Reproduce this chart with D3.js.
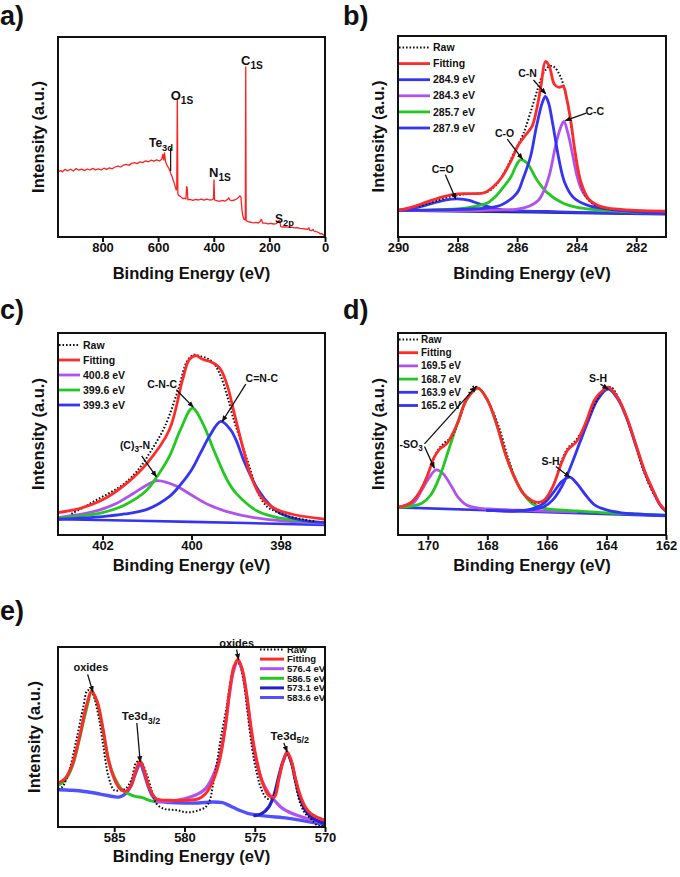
<!DOCTYPE html>
<html>
<head>
<meta charset="utf-8">
<script src="https://cdn.jsdelivr.net/npm/d3@7"></script>
<style>
  body { margin: 0; background: #fff; }
  svg { display: block; font-family: "Liberation Sans", Arial, sans-serif; font-weight: bold; }
</style>
</head>
<body>
<div id="chart"></div>
<script>
// ---- a) survey spectrum (binding energy eV, intensity % of frame) ----
const surveyData = [[960,32.5],[950,33.2],[945,32.6],[935,33.8],[925,33.1],[915,33.9],[905,33.0],[895,34.2],[885,33.4],[875,33.9],[865,33.2],[855,34.0],[845,33.5],[835,34.3],[825,33.6],[815,34.1],[805,33.5],[795,34.4],[785,33.8],[775,34.6],[765,34.1],[755,35.0],[745,35.4],[735,35.0],[725,35.9],[715,36.3],[705,35.8],[695,36.8],[685,37.2],[675,36.7],[665,37.6],[655,37.2],[645,38.1],[635,37.6],[625,38.4],[615,37.9],[605,38.6],[595,38.0],[587,38.9],[583,41.3],[580,38.6],[577,42.0],[574,38.2],[570,36.5],[566,35.3],[562,34.5],[558,33.2],[554,31.5],[550,30.3],[546,28.5],[542,26.8],[538,25.0],[535,23.5],[533,24.5],[531,68.6],[529,21.5],[526,20.8],[520,20.3],[515,19.6],[510,19.2],[505,19.4],[500,19.0],[497.5,25.2],[495.5,24.5],[493,18.6],[485,18.8],[475,18.3],[465,18.8],[455,18.5],[445,18.9],[435,18.4],[425,18.9],[415,18.5],[405,18.7],[401,19.0],[399,28.6],[397,18.5],[390,18.2],[380,17.8],[370,18.3],[360,17.9],[350,18.8],[346,19.6],[342,18.5],[335,18.2],[325,18.5],[318,19.0],[312,19.6],[306,20.6],[302,19.8],[299,14.0],[296,11.0],[292,9.0],[288,8.6],[286.5,9.5],[285,85],[283.5,8.2],[280,7.9],[275,7.6],[270,7.5],[262,7.2],[255,7.1],[248,7.3],[240,7.0],[234,7.6],[230,8.8],[227,8.3],[224,7.0],[215,6.9],[205,6.6],[195,6.8],[185,6.5],[175,6.7],[168,7.5],[165,8.4],[162,7.6],[159,5.2],[150,5.0],[140,5.1],[130,4.8],[120,4.9],[110,4.6],[100,4.7],[90,4.3],[80,4.2],[70,4.0],[62,3.8],[58,4.6],[55,3.4],[48,3.2],[43,3.8],[40,3.0],[35,2.8],[28,2.5],[22,2.2],[18,1.6],[12,1.7],[8,1.3],[4,0.9],[0,1.1]];

// ---- b) C 1s ----
const bRaw = [[289.3,15.2],[289,16.5],[288.6,18.5],[288.2,20.3],[287.8,21.2],[287.4,21.6],[287,22.5],[286.7,26],[286.4,33],[286.1,42],[285.8,51],[285.55,62],[285.3,74],[285.1,82],[284.9,85],[284.75,84.5],[284.55,80],[284.35,70],[284.15,52],[283.95,33],[283.75,22],[283.5,17],[283.1,14.5],[282.7,13.6]];
const bFit = [[290,13.2],[289.5,15],[289,17.6],[288.5,20],[288,21.5],[287.5,21.6],[287.1,22],[286.8,25],[286.5,30],[286.2,38],[285.95,46],[285.7,51],[285.5,55],[285.35,63],[285.2,75],[285.05,87.3],[284.92,85],[284.75,76],[284.6,74.5],[284.45,75],[284.35,70],[284.2,58],[284.05,42],[283.85,27],[283.6,19],[283.3,15.8],[283,14.5],[282,13.2],[281,12.9]];
const b2849 = [[290,13.2],[288,13.7],[287,14.5],[286.5,16.2],[286,22],[285.8,29],[285.55,40],[285.35,55],[285.15,67],[285.05,69.9],[284.95,67],[284.8,56],[284.6,39],[284.4,27],[284.1,19.5],[283.6,15.6],[283,14],[282,12.5],[281,11.6]];
const b2843 = [[290,13.2],[287,13.3],[286,13.9],[285.6,15.3],[285.3,18],[285.1,23],[284.9,31.8],[284.7,46],[284.55,54],[284.43,57.5],[284.3,52],[284.15,42],[284.0,31],[283.85,24],[283.7,20.2],[283.4,16.2],[283,14],[282,12.7],[281,11.8]];
const b2857 = [[290,13.2],[289,13.4],[288,14.0],[287.5,15.0],[287,16.9],[286.7,20.5],[286.44,25.2],[286.2,30.1],[286.05,35],[285.89,38.4],[285.67,36.8],[285.34,28.5],[285.0,22.2],[284.47,16.9],[284.03,14.9],[283.37,13.6],[282,12.3],[281,11.8]];
const b2879 = [[290,13.4],[289.6,14.0],[289.3,14.9],[288.6,17.7],[288.2,18.8],[288.0,19.0],[287.6,18.2],[287.3,16.6],[286.8,14.4],[286.3,13.2],[285,12.7],[284,12.3],[282,11.8],[281,11.6]];
const bBase = [[290,13.2],[287,12.6],[284,12.0],[281,11.4]];

// ---- c) N 1s ----
const cRaw = [[402.7,10.5],[402.4,14],[402.1,17.8],[401.8,21.3],[401.5,25.6],[401.2,32.2],[400.9,42],[400.6,53.7],[400.3,71.9],[400.1,86],[399.95,89.2],[399.8,88.5],[399.65,87.5],[399.5,85],[399.35,79],[399.2,69],[399.05,57],[398.9,47.1],[398.7,33.9],[398.5,20.7],[398.3,14],[398.1,11.6],[397.8,9.1],[397.5,7.8],[397.2,6.6]];
const cFit = [[403,11.1],[402.5,13.2],[402,17.4],[401.5,24.8],[401,35.5],[400.5,52],[400.2,76.9],[400.05,86.8],[399.9,88.8],[399.75,87],[399.6,86],[399.45,84.3],[399.34,81.8],[399.19,73.6],[399.04,60.3],[398.89,47.1],[398.66,28.9],[398.44,19],[398.14,13.2],[397.76,10.4],[397,7.8]];
const c4008 = [[403,8.6],[402.44,10.4],[402.06,12.4],[401.68,15.7],[401.3,20.7],[401.0,24.8],[400.78,26.9],[400.55,26],[400.32,24],[400,19.8],[399.64,15.2],[399.2,11.6],[398.6,8.6],[397.9,6.9],[397,5.8]];
const c3996 = [[403,8.3],[402,11.1],[401.5,14.9],[401,22.3],[400.8,28.1],[400.5,38.8],[400.25,52],[399.98,62.8],[399.75,55.4],[399.5,42.1],[399.2,27.3],[399,20.7],[398.5,11.6],[398,8.3],[397,6.1]];
const c3993 = [[403,7.8],[402,9.1],[401.5,10.4],[401,12.7],[400.5,19],[400.25,24.8],[400,32.2],[399.8,40.5],[399.6,48.8],[399.34,56.2],[399.12,52],[399,47.1],[398.8,35.5],[398.5,22.3],[398.2,14],[398,10.7],[397.53,7.4],[397,6.1]];
const cBase = [[403,7.8],[400,6.5],[397,5.0]];

// ---- d) S 2p ----
const dRaw = [[170.8,14.5],[170.5,17],[170.2,23.5],[169.95,32],[169.7,41],[169.45,45.5],[169.2,48.5],[168.95,57],[168.7,67],[168.45,73.5],[168.2,71.5],[167.9,64],[167.6,53],[167.3,38],[167,26],[166.7,19],[166.4,16],[166.1,16.8],[165.8,24],[165.55,35],[165.3,43],[165.05,46.5],[164.8,52],[164.55,60],[164.3,67.5],[164.05,72.5],[163.85,73.2],[163.6,68],[163.35,59],[163.1,48],[162.85,36],[162.6,26],[162.35,18.5],[162.1,13]];
const dFit = [[171,13.7],[170.6,15.7],[170.3,20.7],[170,29.8],[169.8,38],[169.6,42.5],[169.35,45.5],[169,55.4],[168.7,66.9],[168.32,72.7],[168,66.9],[167.7,55.4],[167.4,40.5],[167.1,28.9],[166.8,20.7],[166.5,17],[166.3,16.2],[166.1,17.2],[165.8,24],[165.5,36],[165.3,42.1],[165,46.3],[164.7,55.4],[164.4,66.9],[164.1,71.9],[163.94,73.2],[163.6,67.5],[163.3,57.5],[163,44.2],[162.7,31],[162.4,21],[162.2,15.2],[162,11.8]];
const d1695 = [[171,13.8],[170.5,15.7],[170.2,22.3],[170,27.3],[169.72,32.2],[169.5,30.6],[169.2,24],[169,19],[168.7,14.9],[168.3,13.3],[167.8,12.8],[167,12.3],[165,11.4]];
const d1687 = [[171,13.7],[170.5,14.4],[170.2,15.7],[169.9,19.8],[169.6,28.9],[169.3,42.1],[169,55.4],[168.7,66.9],[168.32,72.7],[168,66.9],[167.7,55.4],[167.4,40.5],[167.1,28.9],[166.8,20.7],[166.5,15.7],[166.2,13.7],[166,12.9],[165,11.9],[164,11],[162,9.9]];
const d1639 = [[168,12.2],[167,11.9],[166.5,12.6],[166.1,14],[165.8,17.4],[165.5,24],[165.2,33.9],[164.9,45.5],[164.6,57],[164.3,66.9],[163.94,72.2],[163.6,66.9],[163.3,57],[163,43.8],[162.7,30.6],[162.4,20.7],[162.2,14.9],[162,11.6]];
const d1652 = [[168,12.2],[167,11.9],[166.5,13],[166.1,15.7],[165.8,20.7],[165.5,26.4],[165.23,28.6],[165,25.6],[164.7,19.8],[164.4,14.9],[164,12.4],[163.5,11],[163,10.4],[162,9.6]];
const dBase = [[171,13.7],[162,9.4]];

// ---- e) Te 3d ----
const eRaw = [[589,21.3],[588.7,22.2],[588.2,31.5],[587.7,48.1],[587.2,66.7],[586.9,75.9],[586.6,75],[586.2,64.8],[585.8,46.3],[585.4,27.8],[585,20.4],[584.6,20.4],[584.2,21.3],[583.8,25.9],[583.4,36.1],[583.1,36.1],[582.7,29.6],[582.3,19.4],[582,13],[581.5,10.2],[581,9.6],[580.5,9.3],[580,8.3],[579.5,8.3],[579,9.3],[578.5,11.1],[578.2,14.8],[578,22.2],[577.7,35.2],[577.4,50],[577,66.7],[576.7,81.5],[576.4,90.7],[576.1,90.7],[575.8,81.5],[575.5,63],[575.2,44.4],[574.9,31.5],[574.5,20.4],[574.1,15.7],[573.7,16.7],[573.3,25.9],[573,36.1],[572.7,41.7],[572.4,35.2],[572.1,24.1],[571.8,13.9],[571.4,7.4],[571,4.6],[570.6,1.2],[570.3,0.5],[570,1.2]];
const eFit = [[589,24.4],[588.5,26.9],[588,34.3],[587.5,49],[587,66.7],[586.6,75.6],[586.2,69.4],[585.8,54.6],[585.4,37],[585,26.9],[584.6,21.3],[584.2,19.8],[583.8,23.1],[583.5,30.6],[583.15,36.5],[582.9,32.4],[582.6,24.1],[582.3,18.5],[582,15.7],[581,14.8],[580,14.8],[579,15.7],[578.5,18.5],[578,25],[577.5,37],[577.1,55.6],[576.8,75],[576.5,88.5],[576.2,93.1],[575.9,88],[575.6,75],[575.3,57.4],[575,42.6],[574.5,25.9],[574,17.6],[573.6,16.7],[573.3,25.9],[573,36.1],[572.7,41.7],[572.4,37],[572.1,26.9],[571.8,18.5],[571.4,11.1],[571,7.4],[570.5,5.2],[570,3.7]];
const e5764 = [[582,13.9],[581,14.4],[580,15.7],[579,18.5],[578.5,21.3],[578,27.8],[577.5,38.9],[577.1,55.6],[576.8,74],[576.5,87],[576.2,92.6],[575.9,87],[575.6,74],[575.3,55.6],[575,40.7],[574.5,25.9],[574,18.5],[573.5,13.9],[573,10.2],[572,6.5],[571,4.1],[570,2.2]];
const e5865 = [[589,23.1],[588.5,25.9],[588,33.3],[587.5,48.1],[587,64.8],[586.6,75],[586.2,68.5],[585.8,53.7],[585.4,37],[585,27.8],[584.5,21.3],[584,18.5],[583.5,17],[583,16.3],[582.5,14.8],[582,13.9]];
const e5731 = [[575,6.3],[574.5,7.4],[574,11.1],[573.6,18.5],[573.3,27.8],[573,36.1],[572.7,40.7],[572.4,36.1],[572.1,25.9],[571.8,16.7],[571.4,9.3],[571,5.6],[570.5,3.3],[570,1.9]];
const e5836 = [[589,20.7],[588,20.4],[587,19.6],[586,18.3],[585,16.8],[584.6,16.7],[584.2,18.5],[583.8,23.1],[583.5,29.6],[583.15,35.2],[582.9,30.6],[582.6,23.1],[582.3,17.6],[582,14.8],[581.5,14],[581,13.6],[580,13.3],[579,13.3],[578,13.9],[577.3,13.5],[577,12.6],[576.5,10.8],[576,9],[575.5,7.6],[575,6.9],[574,5.9],[573,5.2],[572,4.1],[571,2.8],[570,1.3]];

// tick values
const aTicks = [800, 600, 400, 200, 0];
const bTicks = [290, 288, 286, 284, 282];
const cTicks = [402, 400, 398];
const dTicks = [170, 168, 166, 164, 162];
const eTicks = [585, 580, 575, 570];

const RED = "#ff2b2b", BLUE = "#3434f2", PURPLE = "#b052ee", GREEN = "#22c922", NAVY = "#1d2a8c";
const DARKBLUE = "#2222c8", LIGHTBLUE = "#5050ff";

const svg = d3.select("#chart").append("svg").attr("width", 680).attr("height", 877);

svg.append("defs").append("marker")
  .attr("id", "arr").attr("viewBox", "0 0 10 10").attr("refX", 9).attr("refY", 5)
  .attr("markerWidth", 5).attr("markerHeight", 5).attr("orient", "auto")
  .append("path").attr("d", "M0,1L10,5L0,9z").attr("fill", "#111");

function drawPanel(p) {
  const x = d3.scaleLinear().domain(p.domain).range([p.left, p.right]);
  const y = d3.scaleLinear().domain([0, 100]).range([p.bottom, p.top]);
  const g = svg.append("g");

  g.append("clipPath").attr("id", "clip-" + p.id)
    .append("rect").attr("x", p.left).attr("y", p.top)
    .attr("width", p.right - p.left).attr("height", p.bottom - p.top);

  const line = d3.line().x(d => x(d[0])).y(d => y(d[1]))
    .curve(p.smooth ? d3.curveCatmullRom.alpha(0.5) : d3.curveLinear);

  const plot = g.append("g").attr("clip-path", "url(#clip-" + p.id + ")");
  p.series.forEach(s => {
    plot.append("path").datum(s.data)
      .attr("d", line)
      .attr("fill", "none")
      .attr("stroke", s.color)
      .attr("stroke-width", s.width)
      .attr("stroke-linejoin", "round")
      .attr("stroke-linecap", s.dash ? "butt" : "round")
      .attr("stroke-dasharray", s.dash || null);
  });

  // frame
  g.append("rect").attr("x", p.left).attr("y", p.top)
    .attr("width", p.right - p.left).attr("height", p.bottom - p.top)
    .attr("fill", "none").attr("stroke", "#111").attr("stroke-width", 2);

  // x axis
  const ax = g.append("g")
    .attr("transform", "translate(0," + p.bottom + ")")
    .call(d3.axisBottom(x).tickValues(p.ticks).tickFormat(d3.format("d")).tickSize(5).tickSizeOuter(0).tickPadding(1));
  ax.select(".domain").remove();
  ax.selectAll(".tick line").attr("stroke", "#111").attr("stroke-width", 2);
  ax.selectAll(".tick text").attr("font-size", 13).attr("font-weight", "bold")
    .attr("font-family", '"Liberation Sans", Arial, sans-serif').attr("fill", "#111");

  // axis titles
  g.append("text")
    .attr("x", (p.left + p.right) / 2).attr("y", p.bottom + p.xlabOff)
    .attr("text-anchor", "middle").attr("font-size", 16.5).attr("fill", "#111")
    .text("Binding Energy (eV)");
  g.append("text")
    .attr("transform", "translate(" + (p.left - p.ylabOff) + "," + (p.top + p.bottom) / 2 + ") rotate(-90)")
    .attr("dy", "0.35em").attr("text-anchor", "middle").attr("font-size", 16.5).attr("fill", "#111")
    .text("Intensity (a.u.)");

  // panel letter
  svg.append("text").attr("x", p.letterX).attr("y", p.letterY)
    .attr("font-size", 27).attr("fill", "#111").text(p.id + ")");

  // legend
  if (p.legend) {
    const L = p.legend;
    L.items.forEach((it, i) => {
      const yy = L.y + i * L.dy;
      g.append("line").attr("x1", L.x).attr("x2", L.x + L.len).attr("y1", yy).attr("y2", yy)
        .attr("stroke", it.color).attr("stroke-width", it.dash ? 2 : L.lw)
        .attr("stroke-dasharray", it.dash || null);
      g.append("text").attr("x", L.x + L.len + L.gap).attr("y", yy).attr("dy", "0.35em")
        .attr("font-size", L.fs).attr("fill", "#111").text(it.label);
    });
  }

  // annotations
  (p.notes || []).forEach(n => {
    const t = g.append("text").attr("x", x(n.at[0])).attr("y", y(n.at[1]))
      .attr("text-anchor", n.anchor || "middle").attr("font-size", n.fs).attr("fill", "#111");
    let shifted = false;
    n.parts.forEach(pt => {
      const sub = pt[1];
      const ts = t.append("tspan").text(pt[0]);
      if (sub && !shifted) { ts.attr("dy", n.fs * 0.3).attr("font-size", n.fs * 0.78); shifted = true; }
      else if (sub) { ts.attr("font-size", n.fs * 0.78); }
      else if (!sub && shifted) { ts.attr("dy", -n.fs * 0.3); shifted = false; }
    });
  });
  (p.arrows || []).forEach(a => {
    g.append("line")
      .attr("x1", x(a[0][0])).attr("y1", y(a[0][1]))
      .attr("x2", x(a[1][0])).attr("y2", y(a[1][1]))
      .attr("stroke", "#111").attr("stroke-width", a[2] === "plain" ? 1.2 : 1.3)
      .attr("marker-end", a[2] === "plain" ? null : "url(#arr)");
  });
}

const rawDash = "1.6,1.9";

drawPanel({
  id: "a", left: 58, right: 325, top: 37, bottom: 237, domain: [960, 0], ticks: aTicks,
  smooth: false, xlabOff: 42, ylabOff: 20, letterX: 0, letterY: 25,
  series: [{ data: surveyData, color: "#ff2020", width: 1.3 }],
  notes: [
    { at: [302, 86], anchor: "start", fs: 13, parts: [["C", 0], ["1S", 1]] },
    { at: [555, 68.5], anchor: "start", fs: 13, parts: [["O", 0], ["1S", 1]] },
    { at: [633, 45], anchor: "start", fs: 12, parts: [["Te", 0], ["3d", 1]] },
    { at: [417, 30], anchor: "start", fs: 13, parts: [["N", 0], ["1S", 1]] },
    { at: [180, 7.2], anchor: "start", fs: 12, parts: [["S", 0], ["2p", 1]] }
  ],
  arrows: [[[555, 44.5], [555, 33], "plain"]]
});

drawPanel({
  id: "b", left: 398, right: 666, top: 36, bottom: 237, domain: [290, 281], ticks: bTicks,
  smooth: true, xlabOff: 42, ylabOff: 20, letterX: 343, letterY: 25,
  series: [
    { data: bBase, color: NAVY, width: 2.6 },
    { data: b2879, color: BLUE, width: 2.8 },
    { data: b2857, color: GREEN, width: 2.8 },
    { data: b2843, color: PURPLE, width: 2.8 },
    { data: b2849, color: BLUE, width: 2.8 },
    { data: bRaw, color: "#111", width: 2, dash: rawDash },
    { data: bFit, color: RED, width: 2.8 }
  ],
  legend: { x: 399, y: 47.5, dy: 16.1, len: 31, gap: 3, fs: 10.5, lw: 2.8, items: [
    { label: "Raw", color: "#111", dash: rawDash },
    { label: "Fitting", color: RED },
    { label: "284.9 eV", color: BLUE },
    { label: "284.3 eV", color: PURPLE },
    { label: "285.7 eV", color: GREEN },
    { label: "287.9 eV", color: BLUE }
  ] },
  notes: [
    { at: [285.65, 79.5], fs: 10.5, parts: [["C-N", 0]] },
    { at: [283.39, 60.8], fs: 10.5, parts: [["C-C", 0]] },
    { at: [286.42, 50], fs: 10.5, parts: [["C-O", 0]] },
    { at: [288.5, 31.8], fs: 10.5, parts: [["C=O", 0]] }
  ],
  arrows: [
    [[285.45, 78.1], [285.04, 71.2]],
    [[283.68, 61.6], [284.38, 57.9]],
    [[286.33, 48.7], [285.82, 38.7]],
    [[288.41, 31], [288.06, 18.9]]
  ]
});

drawPanel({
  id: "c", left: 58, right: 325, top: 333, bottom: 535, domain: [403, 397], ticks: cTicks,
  smooth: true, xlabOff: 36, ylabOff: 20, letterX: 0, letterY: 319,
  series: [
    { data: cBase, color: BLUE, width: 2.6 },
    { data: c4008, color: PURPLE, width: 2.8 },
    { data: c3996, color: GREEN, width: 2.8 },
    { data: c3993, color: BLUE, width: 2.8 },
    { data: cRaw, color: "#111", width: 2, dash: rawDash },
    { data: cFit, color: RED, width: 2.8 }
  ],
  legend: { x: 59, y: 345, dy: 15, len: 21, gap: 3, fs: 10.5, lw: 2.8, items: [
    { label: "Raw", color: "#111", dash: rawDash },
    { label: "Fitting", color: RED },
    { label: "400.8 eV", color: PURPLE },
    { label: "399.6 eV", color: GREEN },
    { label: "399.3 eV", color: BLUE }
  ] },
  notes: [
    { at: [400.66, 72.7], fs: 10.5, parts: [["C-N-C", 0]] },
    { at: [398.42, 75.5], fs: 10.5, parts: [["C=N-C", 0]] },
    { at: [401.27, 42.5], fs: 10.5, parts: [["(C)", 0], ["3", 1], ["-N", 0]] }
  ],
  arrows: [
    [[400.34, 71.9], [399.96, 63.3]],
    [[398.78, 74.7], [399.31, 56.2]],
    [[401.12, 39.2], [400.79, 28.9]]
  ]
});

drawPanel({
  id: "d", left: 398, right: 666, top: 333, bottom: 535, domain: [171, 162], ticks: dTicks,
  smooth: true, xlabOff: 36, ylabOff: 20, letterX: 343, letterY: 319,
  series: [
    { data: dBase, color: BLUE, width: 2.6 },
    { data: d1695, color: PURPLE, width: 2.8 },
    { data: d1687, color: GREEN, width: 2.8 },
    { data: d1652, color: BLUE, width: 2.8 },
    { data: d1639, color: BLUE, width: 2.8 },
    { data: dRaw, color: "#111", width: 2, dash: rawDash },
    { data: dFit, color: RED, width: 2.8 }
  ],
  legend: { x: 399, y: 339.5, dy: 13.2, len: 19, gap: 3, fs: 10, lw: 2.8, items: [
    { label: "Raw", color: "#111", dash: rawDash },
    { label: "Fitting", color: RED },
    { label: "169.5 eV", color: PURPLE },
    { label: "168.7 eV", color: GREEN },
    { label: "163.9 eV", color: BLUE },
    { label: "165.2 eV", color: BLUE }
  ] },
  notes: [
    { at: [170.95, 43], anchor: "start", fs: 10.5, parts: [["-SO", 0], ["3", 1]] },
    { at: [164.28, 75.5], fs: 10.5, parts: [["S-H", 0]] },
    { at: [165.88, 34.7], fs: 10.5, parts: [["S-H", 0]] }
  ],
  arrows: [
    [[170.11, 45.1], [168.37, 73.6]],
    [[170.11, 43.8], [169.78, 33.1]],
    [[164.2, 74.7], [163.94, 72.2]],
    [[165.7, 33.9], [165.23, 28.6]]
  ]
});

drawPanel({
  id: "e", left: 58, right: 325, top: 647, bottom: 827, domain: [589, 570], ticks: eTicks,
  smooth: true, xlabOff: 35, ylabOff: 24, letterX: 0, letterY: 620,
  series: [
    { data: e5836, color: LIGHTBLUE, width: 3.4 },
    { data: e5865, color: GREEN, width: 3 },
    { data: e5764, color: PURPLE, width: 3.2 },
    { data: e5731, color: DARKBLUE, width: 3.2 },
    { data: eRaw, color: "#111", width: 2, dash: rawDash },
    { data: eFit, color: RED, width: 3 }
  ],
  legend: { x: 260, y: 649.5, dy: 9.6, len: 24, gap: 3, fs: 9.5, lw: 3, items: [
    { label: "Raw", color: "#111", dash: rawDash },
    { label: "Fitting", color: RED },
    { label: "576.4 eV", color: PURPLE },
    { label: "586.5 eV", color: GREEN },
    { label: "573.1 eV", color: DARKBLUE },
    { label: "583.6 eV", color: LIGHTBLUE }
  ] },
  notes: [
    { at: [586.66, 86.7], fs: 11, parts: [["oxides", 0]] },
    { at: [576.29, 100], fs: 11, parts: [["oxides", 0]] },
    { at: [584.46, 59.3], anchor: "start", fs: 11.5, parts: [["Te3d", 0], ["3/2", 1]] },
    { at: [573.87, 48.5], anchor: "start", fs: 11.5, parts: [["Te3d", 0], ["5/2", 1]] }
  ],
  arrows: [
    [[586.89, 84.8], [586.52, 75]],
    [[576.29, 98.5], [576.15, 93]],
    [[583.39, 57.8], [583.15, 36.1]],
    [[572.93, 46.7], [572.69, 41.7]]
  ]
});
</script>
</body>
</html>
